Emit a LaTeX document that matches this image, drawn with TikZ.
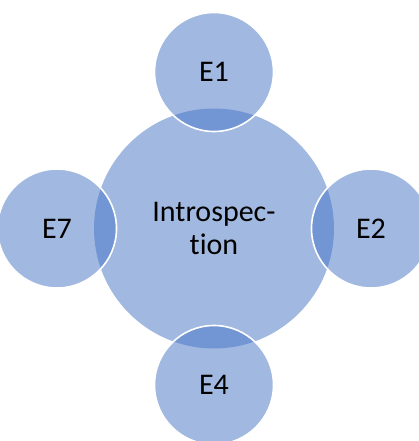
\documentclass[tikz,border=0pt]{standalone}
\usepackage{fontspec}
\setmainfont{Carlito}[Ligatures=CommonOff]
\definecolor{accentblue}{HTML}{4472C4}
\begin{document}
\begin{tikzpicture}[x=1pt,y=-1pt,
  hub/.style={circle, fill=accentblue, fill opacity=0.5, text opacity=1,
    minimum size=240pt, inner sep=0pt, align=center,
    font=\fontsize{30}{33.5}\selectfont},
  sat/.style={circle, fill=accentblue, fill opacity=0.5, text opacity=1,
    draw=white, draw opacity=1, line width=1.6pt,
    minimum size=119pt, inner sep=0pt,
    font=\fontsize{30}{33.5}\selectfont}]
\useasboundingbox (0,0) rectangle (419,441);
\clip (0,0) rectangle (419,441);
\node[hub] (c) at (214,228.5) {Introspec-\\tion};
\node[sat] (e1) at (214,72) {E1};
\node[sat] (e2) at (371,228.5) {E2};
\node[sat] (e4) at (214,385) {E4};
\node[sat] (e7) at (57,228.5) {E7};
\end{tikzpicture}
\end{document}
